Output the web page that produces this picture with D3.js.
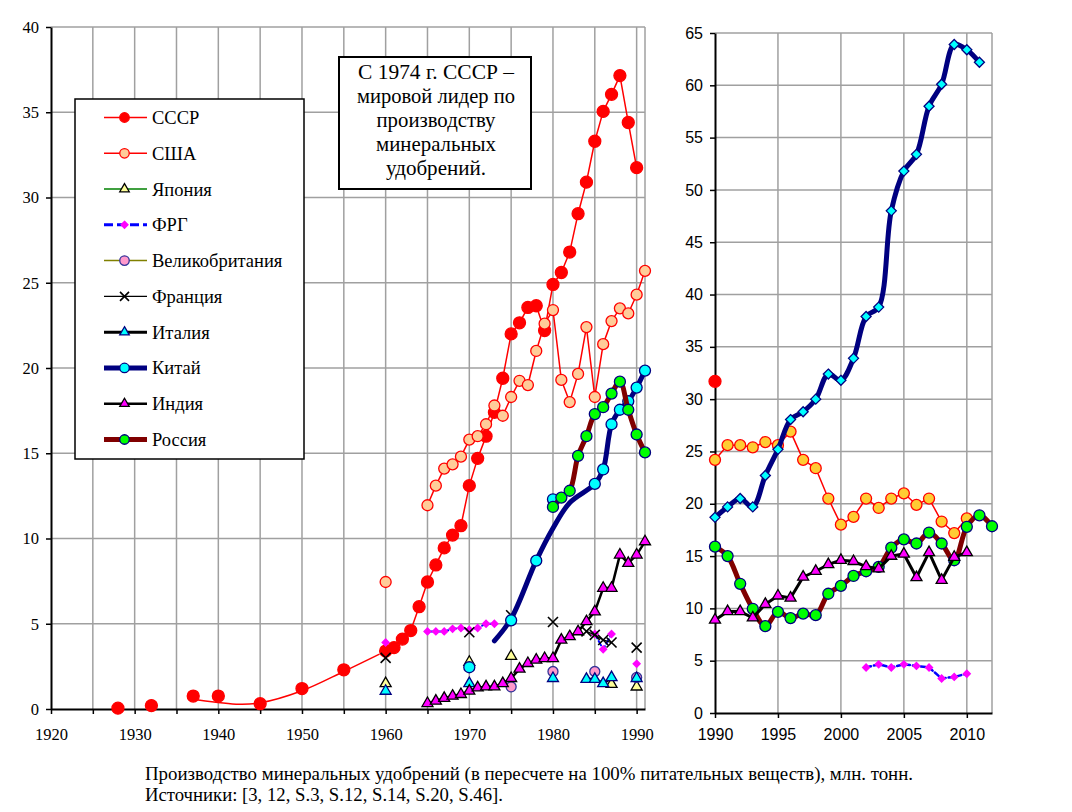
<!DOCTYPE html>
<html>
<head>
<meta charset="utf-8">
<script src="https://cdn.jsdelivr.net/npm/d3@7"></script>
<style>
  body { margin: 0; background: #fff; }
</style>
</head>
<body>
<svg id="chart" width="1072" height="812"></svg>
<script>
// ---- data: [year, value], млн. тонн ----
const ussr = [[1928,0.05],[1932,0.2],[1937,0.76],[1940,0.76],[1945,0.31],[1950,1.2],[1955,2.3],
  [1960,3.4],[1961,3.6],[1962,4.1],[1963,4.6],[1964,6.0],[1965,7.45],[1966,8.45],[1967,9.45],[1968,10.2],
  [1969,10.75],[1970,13.1],[1971,14.7],[1972,16.0],[1973,17.4],[1974,19.4],[1975,22.0],[1976,22.65],
  [1977,23.55],[1978,23.65],[1979,22.2],[1980,24.9],[1981,25.6],[1982,26.8],[1983,29.05],[1984,30.9],
  [1985,33.3],[1986,35.05],[1987,36.05],[1988,37.15],[1989,34.4],[1990,31.75]];
const ussrTrend = [[1937.6,0.53],[1942.5,0.28],[1945,0.36],[1950,1.07],[1955,2.2],[1959.2,3.2]];
const usa = [[1960,7.45],[1965,11.95],[1966,13.1],[1967,14.1],[1968,14.35],[1969,14.8],[1970,15.8],
  [1971,16.0],[1972,16.7],[1973,17.8],[1974,17.2],[1975,18.3],[1976,19.25],[1977,19.0],[1978,21.0],
  [1979,22.6],[1980,23.4],[1981,19.3],[1982,18.0],[1983,19.65],[1984,22.4],[1985,18.3],[1986,21.4],
  [1987,22.75],[1988,23.5],[1989,23.2],[1990,24.3],[1991,25.7]];
const japan = [[1960,1.5],[1970,2.75],[1975,3.1],[1987,1.45],[1990,1.3]];
const frg = [[1960,3.9],[1965,4.55],[1966,4.55],[1967,4.55],[1968,4.7],[1969,4.75],[1970,4.65],
  [1971,4.75],[1972,5.0],[1973,5.0],[1985,4.4],[1986,3.5],[1987,4.4],[1990,2.65]];
const uk = [[1975,1.3],[1980,2.2],[1985,2.2],[1990,1.85]];
const france = [[1960,3.0],[1970,4.5],[1975,5.5],[1980,5.1],[1984,4.55],[1985,4.35],[1986,4.05],
  [1987,3.9],[1990,3.6]];
const italy = [[1960,1.05],[1970,1.5],[1980,1.8],[1984,1.75],[1985,1.75],[1986,1.5],[1987,1.85],[1990,1.8]];
const chinaCurve = [[1973,4.0],[1975,5.3],[1978,8.7],[1980,10.6],[1982,12.1],[1985,13.2],[1986,14.05],
  [1987,16.7],[1988,17.55],[1989,18.05],[1990,18.85],[1991,19.85]];
const chinaPoints = [[1970,2.45],[1975,5.2],[1978,8.7],[1980,12.3],[1985,13.2],[1986,14.05],[1987,16.7],
  [1988,17.55],[1989,18.05],[1990,18.85],[1991,19.85]];
const india = [[1965,0.33],[1966,0.47],[1967,0.63],[1968,0.76],[1969,0.86],[1970,1.06],[1971,1.25],
  [1972,1.31],[1973,1.31],[1974,1.5],[1975,1.8],[1976,2.35],[1977,2.68],[1978,2.88],[1979,2.97],
  [1980,2.97],[1981,4.05],[1982,4.25],[1983,4.54],[1984,5.13],[1985,5.71],[1986,7.09],[1987,7.09],
  [1988,9.04],[1989,8.55],[1990,9.04],[1991,9.82]];
const russia = [[1980,11.85],[1981,12.4],[1982,12.8],[1983,14.85],[1984,16.0],[1985,17.3],[1986,17.7],
  [1987,18.5],[1988,19.2],[1989,17.55],[1990,16.1],[1991,15.05]];

// right panel, 1990-2012
const ussr2 = [[1990,31.7]];
const usa2 = [[1990,24.2],[1991,25.6],[1992,25.6],[1993,25.4],[1994,25.9],[1995,25.6],[1996,26.9],
  [1997,24.2],[1998,23.4],[1999,20.5],[2000,18.0],[2001,18.75],[2002,20.5],[2003,19.6],[2004,20.5],
  [2005,21.0],[2006,19.9],[2007,20.5],[2008,18.3],[2009,17.2],[2010,18.6]];
const frg2 = [[2002,4.35],[2003,4.65],[2004,4.35],[2005,4.65],[2006,4.5],[2007,4.35],[2008,3.3],
  [2009,3.45],[2010,3.75]];
const china2 = [[1990,18.7],[1991,19.7],[1992,20.5],[1993,19.7],[1994,22.7],[1995,25.2],[1996,28.05],
  [1997,28.8],[1998,30.0],[1999,32.4],[2000,31.8],[2001,33.9],[2002,37.9],[2003,38.8],[2004,48.0],
  [2005,51.8],[2006,53.4],[2007,58.0],[2008,60.1],[2009,63.9],[2010,63.4],[2011,62.2]];
const russia2 = [[1990,15.9],[1991,15.0],[1992,12.35],[1993,9.96],[1994,8.3],[1995,9.67],[1996,9.07],
  [1997,9.5],[1998,9.35],[1999,11.4],[2000,12.15],[2001,13.1],[2002,13.55],[2003,13.97],[2004,15.8],
  [2005,16.6],[2006,16.2],[2007,17.25],[2008,16.2],[2009,14.6],[2010,17.8],[2011,18.9],[2012,17.85]];
const india2 = [[1990,8.9],[1991,9.7],[1992,9.7],[1993,9.1],[1994,10.4],[1995,11.2],[1996,11.0],
  [1997,13.0],[1998,13.55],[1999,14.2],[2000,14.6],[2001,14.5],[2002,14.0],[2003,13.8],[2004,15.0],
  [2005,15.2],[2006,12.95],[2007,15.35],[2008,12.7],[2009,14.9],[2010,15.35]];

const leftYTicks = d3.range(0, 41, 5);
const leftXTicks = d3.range(1920, 1991, 5);
const rightYTicks = d3.range(0, 66, 5);
const rightXTicks = [1990, 1995, 2000, 2005, 2010];

const legendNames = ["СССР", "США", "Япония", "ФРГ", "Великобритания", "Франция", "Италия", "Китай", "Индия", "Россия"];
const noteLines = ["С 1974 г. СССР –", "мировой лидер по", "производству", "минеральных", "удобрений."];
const captionLines = [
  "Производство минеральных удобрений (в пересчете на 100% питательных веществ), млн. тонн.",
  "Источники: [3, 12, S.3, S.12, S.14, S.20, S.46]."
];

const SERIF = "'Liberation Serif', 'Times New Roman', serif";
const SANS = "'Liberation Sans', Arial, sans-serif";

// ---- series styles (legend order) ----
const styles = {
  ussr:   { line: "#ff0000", lw: 1.5, mk: "circle", fill: "#ff0000", stroke: "#ff0000", size: 12 },
  usa:    { line: "#ff0000", lw: 1.5, mk: "circle", fill: "#ffcc99", stroke: "#ff0000", size: 11 },
  japan:  { line: "#008000", lw: 1.5, mk: "triangle", fill: "#ffff99", stroke: "#000", size: 11 },
  frg:    { line: "#0000ff", lw: 2, dash: "5,3", mk: "diamond", fill: "#ff00ff", stroke: "#ff00ff", size: 7 },
  uk:     { line: "#808000", lw: 1.5, mk: "circle", fill: "#ff99cc", stroke: "#333399", size: 10 },
  france: { line: "#000", lw: 1.3, mk: "cross", fill: "none", stroke: "#000", size: 10 },
  italy:  { line: "#000", lw: 3, mk: "triangle", fill: "#00ffff", stroke: "#000080", size: 11 },
  china:  { line: "#000080", lw: 5, mk: "circle", fill: "#00ffff", stroke: "#000080", size: 11, smooth: true },
  india:  { line: "#000", lw: 2.5, mk: "triangle", fill: "#ff00ff", stroke: "#000", size: 11 },
  russia: { line: "#800000", lw: 5, mk: "circle", fill: "#00ff00", stroke: "#000080", size: 11, smooth: true }
};

const svg = d3.select("#chart");
svg.append("rect").attr("width", 1072).attr("height", 812).attr("fill", "#fff");

function symbolPath(type, s) {
  const h = s / 2;
  if (type === "circle") return d3.symbol(d3.symbolCircle, Math.PI * h * h)();
  if (type === "triangle") return d3.symbol(d3.symbolTriangle, s * s * Math.sqrt(3) / 4)();
  if (type === "diamond") return `M0,${-h}L${h},0L0,${h}L${-h},0Z`;
  return `M${-h},${-h}L${h},${h}M${-h},${h}L${h},${-h}`;
}

// split into runs of consecutive years (Excel leaves gaps for empty years)
function runs(data) {
  const out = [];
  let cur = [];
  data.forEach((d, i) => {
    if (i > 0 && d[0] - data[i - 1][0] > 1.01) { out.push(cur); cur = []; }
    cur.push(d);
  });
  if (cur.length) out.push(cur);
  return out;
}

function drawLine(g, x, y, data, st, opts = {}) {
  const line = d3.line()
    .x(d => x(d[0])).y(d => y(d[1]))
    .curve(st.smooth || opts.smooth ? d3.curveCatmullRom.alpha(0.5) : d3.curveLinear);
  const parts = opts.whole ? [data] : runs(data);
  parts.filter(p => p.length > 1).forEach(p => {
    g.append("path")
      .attr("d", line(p))
      .attr("fill", "none")
      .attr("stroke", st.line)
      .attr("stroke-width", opts.lw || st.lw)
      .attr("stroke-dasharray", st.dash || null)
      .attr("stroke-linejoin", "round")
      .attr("stroke-linecap", "round");
  });
}

function drawMarkers(g, x, y, data, st, opts = {}) {
  const type = opts.mk || st.mk;
  const size = opts.size || st.size;
  g.selectAll(null).data(data).enter().append("path")
    .attr("transform", d => `translate(${x(d[0])},${y(d[1])})`)
    .attr("d", symbolPath(type, size))
    .attr("fill", opts.fill || st.fill)
    .attr("stroke", st.stroke)
    .attr("stroke-width", type === "cross" ? 1.6 : 1.3);
}

function drawFrame(x, y, xTicks, yTicks, xFormat, font, xPad, yPad) {
  const g = svg.append("g");
  const [x0, x1] = x.range();
  const [y0, y1] = y.range();
  const grid = g.append("g").attr("stroke", "#a0a0a0").attr("stroke-width", 1.5);
  grid.selectAll(null).data(yTicks.filter(v => v > 0)).enter().append("line")
    .attr("x1", x0).attr("x2", x1).attr("y1", d => y(d)).attr("y2", d => y(d));
  grid.selectAll(null).data(xTicks.filter(v => v > x.domain()[0]).concat([x.domain()[1]])).enter().append("line")
    .attr("x1", d => x(d)).attr("x2", d => x(d)).attr("y1", y0).attr("y2", y1);

  const ax = g.append("g").attr("transform", `translate(0,${y0})`)
    .call(d3.axisBottom(x).tickValues(xTicks).tickSize(5).tickSizeOuter(0).tickPadding(xPad).tickFormat(xFormat));
  const ay = g.append("g").attr("transform", `translate(${x0},0)`)
    .call(d3.axisLeft(y).tickValues(yTicks).tickSize(5).tickSizeOuter(0).tickPadding(yPad));
  [ax, ay].forEach(a => {
    a.select(".domain").attr("stroke", "#000").attr("stroke-width", 2);
    a.selectAll(".tick line").attr("stroke", "#000").attr("stroke-width", 1.5);
    a.selectAll("text").attr("fill", "#000").style("font-family", font.family).style("font-size", font.size);
  });
  return g;
}

// ---- left panel ----
const xL = d3.scaleLinear().domain([1920, 1991]).range([51, 645]);
const yL = d3.scaleLinear().domain([0, 40]).range([709, 27]);
drawFrame(xL, yL, leftXTicks, leftYTicks, d => (d % 10 === 0 ? d : ""), { family: SERIF, size: "16.5px" }, 14, 7);

const gL = svg.append("g");
const leftSeries = [
  ["ussr", ussr], ["usa", usa], ["japan", japan], ["frg", frg], ["uk", uk],
  ["france", france], ["italy", italy], ["china", null], ["india", india], ["russia", russia]
];
leftSeries.forEach(([key, data]) => {
  const st = styles[key];
  if (key === "ussr") drawLine(gL, xL, yL, ussrTrend, st, { smooth: true, whole: true });
  if (key === "china") {
    drawLine(gL, xL, yL, chinaCurve, st, { whole: true });
    drawMarkers(gL, xL, yL, chinaPoints, st);
    return;
  }
  drawLine(gL, xL, yL, data, st);
  drawMarkers(gL, xL, yL, data, st);
});

// ---- right panel ----
const xR = d3.scaleLinear().domain([1990, 2012]).range([715, 992]);
const yR = d3.scaleLinear().domain([0, 65]).range([713, 33]);
drawFrame(xR, yR, rightXTicks, rightYTicks, d => d, { family: SANS, size: "16px" }, 11, 7);

const gR = svg.append("g");
const rightSeries = [
  ["ussr", ussr2, {}], ["usa", usa2, { fill: "#ffcc33" }], ["frg", frg2, { lw: 2.5 }],
  ["china", china2, { mk: "diamond", size: 10 }], ["russia", russia2, {}], ["india", india2, { lw: 3 }]
];
rightSeries.forEach(([key, data, opts]) => {
  const st = styles[key];
  drawLine(gR, xR, yR, data, st, opts);
  drawMarkers(gR, xR, yR, data, st, opts);
});

// ---- legend ----
const lg = svg.append("g");
lg.append("rect").attr("x", 75).attr("y", 99).attr("width", 229).attr("height", 360)
  .attr("fill", "#fff").attr("stroke", "#000").attr("stroke-width", 1.5);
const legendKeys = Object.keys(styles);
const rowY = d3.scaleLinear().domain([0, 9]).range([117.5, 439.5]);
legendKeys.forEach((key, i) => {
  const st = styles[key];
  const yy = rowY(i);
  const row = lg.append("g").attr("transform", `translate(0,${yy})`);
  row.append("line").attr("x1", 104).attr("x2", 147).attr("y1", 0).attr("y2", 0)
    .attr("stroke", st.line).attr("stroke-width", key === "frg" ? 3 : st.lw)
    .attr("stroke-dasharray", key === "frg" ? "9,4" : null);
  row.append("path").attr("transform", "translate(124.5,0)")
    .attr("d", symbolPath(st.mk, st.mk === "diamond" ? 7 : (st.mk === "cross" ? 9 : 9.5)))
    .attr("fill", st.fill).attr("stroke", st.stroke)
    .attr("stroke-width", st.mk === "cross" ? 1.6 : 1.3);
  row.append("text").attr("x", 152).attr("y", 0).attr("dy", "0.35em")
    .style("font-family", SERIF).style("font-size", "18.5px").attr("fill", "#000")
    .text(legendNames[i]);
});

// ---- note box ----
const nb = svg.append("g");
nb.append("rect").attr("x", 339).attr("y", 57).attr("width", 192).attr("height", 132)
  .attr("fill", "#fff").attr("stroke", "#000").attr("stroke-width", 2);
const noteWidths = [156, 158, 119, 120, 100];
noteLines.forEach((t, i) => {
  nb.append("text").attr("x", 436).attr("y", 78.5 + i * 24)
    .attr("text-anchor", "middle")
    .attr("textLength", noteWidths[i]).attr("lengthAdjust", "spacingAndGlyphs")
    .style("font-family", SERIF).style("font-size", "21px").attr("fill", "#000")
    .text(t);
});

// ---- caption ----
const captionWidths = [768, 358];
captionLines.forEach((t, i) => {
  svg.append("text").attr("x", 145).attr("y", 780 + i * 21)
    .attr("textLength", captionWidths[i]).attr("lengthAdjust", "spacingAndGlyphs")
    .style("font-family", SERIF).style("font-size", "19px").attr("fill", "#000")
    .text(t);
});
</script>
</body>
</html>
